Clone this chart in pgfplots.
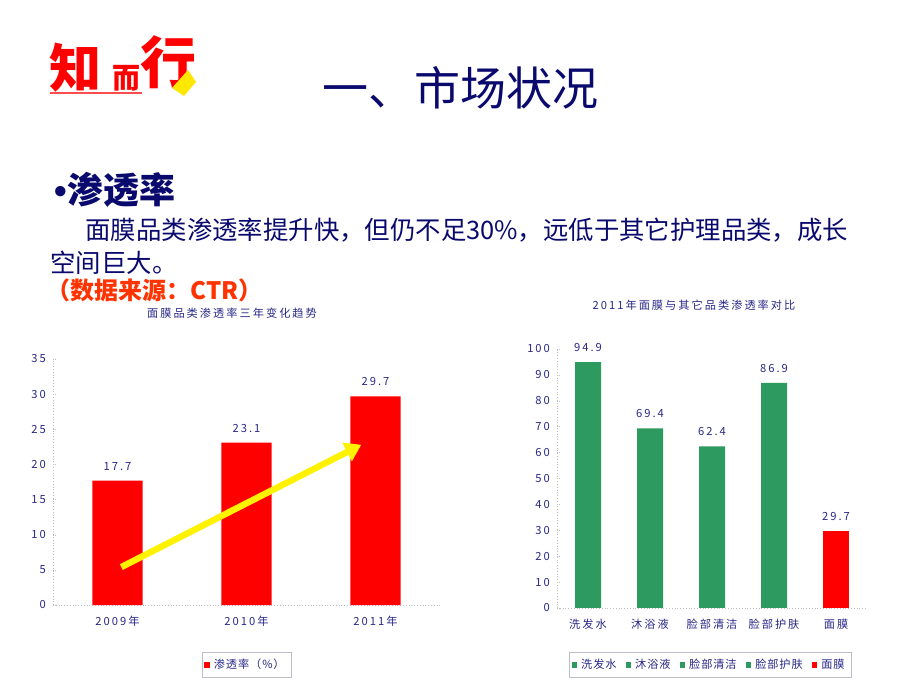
\documentclass[border=0pt]{standalone}
\usepackage{fontspec}
\setmainfont{Noto Sans CJK SC}
\newfontfamily\lib{Liberation Sans}
\usepackage{pgfplots}
\pgfplotsset{compat=1.18}
\usetikzlibrary{arrows.meta}
\definecolor{navy}{RGB}{10,10,110}
\definecolor{tickblue}{RGB}{40,40,135}
\definecolor{barR}{RGB}{255,0,0}
\definecolor{barG}{RGB}{45,155,95}
\definecolor{srcred}{RGB}{255,51,0}
\definecolor{axgray}{RGB}{190,190,200}

\newcommand\chartfont{\fontsize{5.6}{6}\selectfont\addfontfeature{LetterSpace=18}}
\newcommand\legfont{\fontsize{5.6}{6}\selectfont\addfontfeature{LetterSpace=8}}

\pgfplotsset{
  slidechart/.style={
    scale only axis,
    axis x line*=bottom, axis y line*=left,
    axis line style={densely dotted, axgray, -},
    ytick style={axgray, densely dotted}, tick align=inside, major tick length=2pt,
    xtick style={draw=none},
    ymin=0,
    ticklabel style={font=\chartfont, text=tickblue},
    /pgf/number format/assume math mode=true,
    nodes near coords,
    nodes near coords style={font=\chartfont, text=tickblue, inner sep=0pt, anchor=south, yshift=5pt},
    /pgf/number format/fixed, /pgf/number format/precision=1,
    legend style={font=\legfont, text=tickblue, draw=axgray, inner sep=1.2pt,
      /tikz/every even column/.append style={column sep=2.5pt}},
  },
  sqlegend/.style={legend image code/.code={\fill[##1, draw=none] (0pt,-1.4pt) rectangle (2.8pt,1.4pt);}},
}

\begin{document}
\begin{tikzpicture}
\fill[white] (0,0) rectangle (460pt,345pt);

% logo
\node[text=red, font=\fontsize{26}{26}\selectfont\bfseries] at (37.5pt,311pt) {知};
\node[text=red, font=\fontsize{14}{14}\selectfont\bfseries] at (63pt,306pt) {而};
\node[text=red, font=\fontsize{28}{28}\selectfont\bfseries] at (84pt,314pt) {行};
\draw[red!70, line width=0.8pt] (25pt,298.5pt) -- (71pt,298.5pt);
\fill[yellow!90!orange] (86pt,301pt) -- (94pt,310pt) -- (98pt,304pt) -- (92pt,297pt) -- cycle;

% headings
\node[text=navy, font=\fontsize{23}{23}\selectfont] at (230pt,301pt) {一、市场状况};
\node[anchor=west, text=navy, font=\fontsize{18}{18}\selectfont\bfseries, inner sep=0pt] at (27pt,250pt) {{\lib •}渗透率};
\node[anchor=west, text=navy, font=\fontsize{12.7}{13}\selectfont, inner sep=0pt] at (42.5pt,230pt) {面膜品类渗透率提升快，但仍不足30\%，远低于其它护理品类，成长};
\node[anchor=west, text=navy, font=\fontsize{12.7}{13}\selectfont, inner sep=0pt] at (25pt,213.5pt) {空间巨大。};
\node[anchor=west, text=srcred, font=\fontsize{12}{12}\selectfont\bfseries, inner sep=0pt] at (23pt,200pt) {（数据来源：CTR）};
\node[text=tickblue, font=\chartfont] at (116pt,188.5pt) {面膜品类渗透率三年变化趋势};
\node[text=tickblue, font=\chartfont] at (347pt,192.5pt) {2011年面膜与其它品类渗透率对比};

% left chart
\begin{axis}[slidechart,
  at={(26.5pt,42.5pt)}, anchor=south west,
  width=193.5pt, height=123pt,
  ybar, bar width=25pt, sqlegend,
  xmin=-0.5, xmax=2.5, ymax=35, ytick={0,5,...,35},
  xtick=data, xticklabels={2009年,2010年,2011年},
  legend style={at={(0.5,-0.19)}, anchor=north},
]
\addplot[fill=barR, draw=none, bar shift=0pt] coordinates {(0,17.7) (1,23.1) (2,29.7)};
\legend{渗透率（\%）}
\draw[yellow, line width=3.2pt, -{Triangle[length=8pt,width=10pt]}] (axis cs:0.03,5.4) -- (axis cs:1.89,22.8);
\end{axis}

% right chart
\begin{axis}[slidechart,
  at={(278.5pt,41pt)}, anchor=south west,
  width=155pt, height=129.5pt,
  ybar, bar width=13pt, sqlegend,
  xmin=-0.5, xmax=4.5, ymax=100, ytick={0,10,...,100},
  xtick={0,...,4}, xticklabels={洗发水,沐浴液,脸部清洁,脸部护肤,面膜},
  legend columns=5,
  legend style={at={(0.494,-0.17)}, anchor=north},
]
\addplot[fill=barG, draw=none, bar shift=0pt, forget plot] coordinates {(0,94.9) (1,69.4) (2,62.4) (3,86.9)};
\addplot[fill=barR, draw=none, bar shift=0pt, forget plot] coordinates {(4,29.7)};
\addlegendimage{fill=barG}
\addlegendimage{fill=barG}
\addlegendimage{fill=barG}
\addlegendimage{fill=barG}
\addlegendimage{fill=barR}
\legend{洗发水,沐浴液,脸部清洁,脸部护肤,面膜}
\end{axis}

\pgfresetboundingbox
\path (0,0) rectangle (460pt,345pt);
\end{tikzpicture}
\end{document}
